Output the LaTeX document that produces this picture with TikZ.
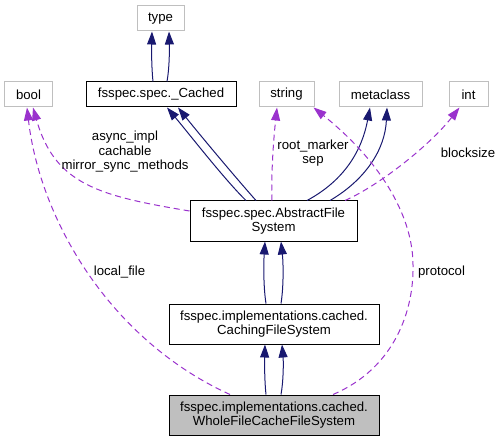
\documentclass[tikz,border=0pt]{standalone}
\usepackage{fontspec}
\setmainfont{Liberation Sans}
\usetikzlibrary{arrows.meta}
\definecolor{inhcol}{HTML}{191970}
\definecolor{usecol}{HTML}{9A32CD}
\definecolor{extgray}{HTML}{BFBFBF}
\begin{document}
\begin{tikzpicture}[x=1bp,y=-1bp, font=\fontsize{13.2bp}{14.5bp}\selectfont,
 box/.style={line width=1bp, inner sep=0pt, align=center, minimum height=25bp},
 ext/.style={box, draw=extgray},
 cls/.style={box, draw=black, minimum height=40bp},
 inh/.style={draw=inhcol, line width=1bp, -{Triangle[length=13bp,width=9bp,fill=inhcol]}},
 use/.style={draw=usecol, line width=1bp, dash pattern=on 6bp off 4bp, -{Triangle[length=13bp,width=9bp,fill=usecol]}},
 lbl/.style={inner sep=0pt, align=center}]
\useasboundingbox (0,0) rectangle (502,441);
% nodes
\node[ext, minimum width=47bp] (type) at (160.5,18.5) {type};
\node[ext, minimum width=47bp] (bool) at (28.5,94.5) {bool};
\node[box, draw=black, minimum width=150bp] (cached) at (161,94.5) {fsspec.spec.\_Cached};
\node[ext, minimum width=55bp] (string) at (286.5,94.5) {string};
\node[ext, minimum width=83bp] (meta) at (380.5,94.5) {metaclass};
\node[ext, minimum width=39bp] (int) at (468.5,94.5) {int};
\node[cls, minimum width=167bp] (afs) at (273.5,221) {fsspec.spec.AbstractFile\\System};
\node[cls, minimum width=210bp] (cfs) at (274,324) {fsspec.implementations.cached.\\CachingFileSystem};
\node[cls, minimum width=210bp, fill=extgray] (wfs) at (274,415) {fsspec.implementations.cached.\\WholeFileCacheFileSystem};
% inheritance
\draw[inh] ([xshift=-8bp]cached.north) .. controls (151.5,68) and (151.5,48) .. ([xshift=-8.5bp]type.south);
\draw[inh] ([xshift=6bp]cached.north) .. controls (169.5,68) and (169.5,48) .. ([xshift=8.5bp]type.south);
\draw[inh] ([xshift=-27.5bp]afs.north) .. controls (225,180) and (190,135) .. ([xshift=6bp]cached.south);
\draw[inh] ([xshift=-17.5bp]afs.north) .. controls (236,178) and (200,135) .. ([xshift=17bp]cached.south);
\draw[inh] ([xshift=33.5bp]afs.north) .. controls (345,180) and (362,150) .. ([xshift=-10.5bp]meta.south);
\draw[inh] ([xshift=56.5bp]afs.north) .. controls (365,180) and (385,150) .. ([xshift=6.5bp]meta.south);
\draw[inh] ([xshift=-8bp]cfs.north) .. controls (263.5,288) and (263.5,265) .. ([xshift=-8.5bp]afs.south);
\draw[inh] ([xshift=7bp]cfs.north) .. controls (283.5,288) and (283.5,265) .. ([xshift=7.5bp]afs.south);
\draw[inh] ([xshift=-8bp]wfs.north) .. controls (264.5,381) and (264.5,362) .. ([xshift=-9bp]cfs.south);
\draw[inh] ([xshift=7bp]wfs.north) .. controls (283.5,381) and (283.5,362) .. ([xshift=8bp]cfs.south);
% usage
\draw[use] ([xshift=-1.5bp]afs.north) .. controls (271,170) and (274,135) .. ([xshift=-9.5bp]string.south);
\draw[use] ([xshift=71.5bp]afs.north) .. controls (380,185) and (430,145) .. ([xshift=-9bp]int.south);
\draw[use] ([yshift=10bp]afs.west) .. controls (100,196) and (55,185) .. ([xshift=4.5bp]bool.south);
\draw[use] ([xshift=-44bp]wfs.north) .. controls (110,340) and (40,220) .. ([xshift=-1.5bp]bool.south);
\draw[use] ([xshift=59bp]wfs.north) .. controls (395,368) and (414,310) .. (413,265)
  .. controls (413,220) and (385,165) .. ([xshift=-1bp]string.south east);
% labels
\node[lbl] (l1) at (125,152) {async\_impl\\cachable\\mirror\_sync\_methods};
\node[lbl] (l2) at (313,153) {root\_marker\\sep};
\node[lbl] (l3) at (468,153) {blocksize};
\node[lbl] (l4) at (119.5,272) {local\_file};
\node[lbl] (l5) at (441.5,272) {protocol};
\end{tikzpicture}
\end{document}
